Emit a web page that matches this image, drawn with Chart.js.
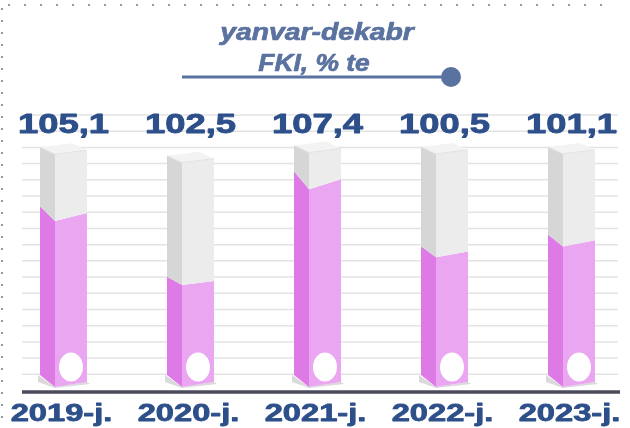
<!DOCTYPE html>
<html>
<head>
<meta charset="utf-8">
<script src="https://cdn.jsdelivr.net/npm/chart.js@4.4.0/dist/chart.umd.min.js"></script>
<style>
html, body { margin: 0; padding: 0; background: #fff; overflow: hidden; width: 630px; height: 428px; }
canvas { display: block; }
</style>
</head>
<body>
<canvas id="fki" width="640" height="428"></canvas>
<script>
var years = ['2019-j.', '2020-j.', '2021-j.', '2022-j.', '2023-j.'];
var fkiValues = [105.1, 102.5, 107.4, 100.5, 101.1];
// pink fill level and tube top, counted in grid steps above the axis
var fillLevel = [10.46, 6.51, 12.42, 8.22, 8.88];
var tubeLevel = [14.58, 14.06, 14.68, 14.6, 14.6];
var baseLevel = 0.22;
var titleLines = ['yanvar-dekabr', 'FKI, % te'];

function fmt(v) {
    return v.toFixed(1).replace('.', ',');
}

function poly(ctx, pts, color) {
    ctx.beginPath();
    ctx.moveTo(pts[0][0], pts[0][1]);
    for (var i = 1; i < pts.length; i++) ctx.lineTo(pts[i][0], pts[i][1]);
    ctx.closePath();
    ctx.fillStyle = color;
    ctx.fill();
}

// wide heavy text, the original is stretched sideways
function wideText(ctx, text, x, y, font, color, sx, weight) {
    ctx.save();
    ctx.font = font;
    ctx.fillStyle = color;
    ctx.strokeStyle = color;
    ctx.lineWidth = weight;
    ctx.lineJoin = 'round';
    ctx.textAlign = 'center';
    ctx.textBaseline = 'alphabetic';
    ctx.translate(x, y);
    ctx.scale(sx, 1);
    ctx.fillText(text, 0, 0);
    if (weight > 0) ctx.strokeText(text, 0, 0);
    ctx.restore();
}

var tubes = {
    id: 'tubes',
    beforeDatasetsDraw: function(chart) {
        var ctx = chart.ctx;
        var ys = chart.scales.y;

        ctx.save();
        // dotted frame
        ctx.strokeStyle = '#9a9a9a';
        ctx.lineWidth = 2;
        ctx.setLineDash([2, 14]);
        ctx.beginPath();
        ctx.moveTo(8, 5);
        ctx.lineTo(605, 5);
        ctx.stroke();
        ctx.setLineDash([2, 10]);
        ctx.beginPath();
        ctx.moveTo(2, 8);
        ctx.lineTo(2, 428);
        ctx.stroke();
        ctx.setLineDash([]);

        // grid
        ctx.strokeStyle = '#e3e3e3';
        ctx.lineWidth = 1.5;
        ys.ticks.forEach(function(t) {
            if (t.value <= 0) return;
            var py = ys.getPixelForValue(t.value);
            ctx.beginPath();
            ctx.moveTo(22, py);
            ctx.lineTo(618, py);
            ctx.stroke();
        });

        // axis
        var p0 = ys.getPixelForValue(0) + 1.5;
        ctx.strokeStyle = '#4b4b5b';
        ctx.lineWidth = 3.5;
        ctx.beginPath();
        ctx.moveTo(22, p0);
        ctx.lineTo(620, p0);
        ctx.stroke();

        // title
        wideText(ctx, titleLines[0], 317, 40, 'italic bold 24px "Liberation Sans", Arial', '#5a72a0', 1.18, 0.7);
        wideText(ctx, titleLines[1], 314, 71, 'italic bold 24px "Liberation Sans", Arial', '#5a72a0', 1.1, 0.7);
        ctx.strokeStyle = '#5a72a0';
        ctx.lineWidth = 3;
        ctx.beginPath();
        ctx.moveTo(182, 77);
        ctx.lineTo(445, 77);
        ctx.stroke();
        ctx.fillStyle = '#5a72a0';
        ctx.beginPath();
        ctx.arc(451, 77, 10, 0, Math.PI * 2);
        ctx.fill();
        ctx.restore();
    },
    afterDatasetsDraw: function(chart) {
        var ctx = chart.ctx;
        var ys = chart.scales.y;
        var bars = chart.getDatasetMeta(0).data;
        var yB = ys.getPixelForValue(baseLevel);

        ctx.save();
        bars.forEach(function(bar, i) {
            var c = bar.x;
            var xs = c - 23.5, xf = c - 8.5, xr = c + 23.5;
            var yP = ys.getPixelForValue(fillLevel[i]);
            var yT = ys.getPixelForValue(tubeLevel[i]);
            var h = yB - yP;
            var fs = Math.max(3, 0.0625 * h - 2.4);
            var ss = 1.6 * fs + 2;

            // shadow
            poly(ctx, [[xs - 2, yB - 12], [xs - 2, yB - 5], [xf, yB + 1], [xr + 3, yB - 3], [xr, yB - 5], [xf, yB]], '#dadada');
            // pink
            poly(ctx, [[xs, yB - 12], [xf, yB], [xf, yP], [xs, yP - ss]], '#dd7ae5');
            poly(ctx, [[xf, yB], [xr, yB - 5], [xr, yP - fs], [xf, yP]], '#eaa6f0');
            // empty part
            poly(ctx, [[xs, yP - ss], [xf, yP], [xf, yT], [xs, yT - 7]], '#d6d6d6');
            poly(ctx, [[xf, yP], [xr, yP - fs], [xr, yT - 4], [xf, yT]], '#ececec');
            // top cap
            poly(ctx, [[xs, yT - 7], [xf, yT], [xr, yT - 4], [xs + (xr - xf), yT - 11]], '#f3f3f3');
            ctx.strokeStyle = '#e2e2e2';
            ctx.lineWidth = 1;
            ctx.beginPath();
            ctx.moveTo(xs, yT - 7);
            ctx.lineTo(xf, yT);
            ctx.lineTo(xr, yT - 4);
            ctx.stroke();
            // bulb
            ctx.fillStyle = '#ffffff';
            ctx.beginPath();
            ctx.ellipse((xf + xr) / 2, yB - 20, 12, 14.5, 0, 0, Math.PI * 2);
            ctx.fill();

            wideText(ctx, fmt(fkiValues[i]), c, 133, 'bold 28px "Liberation Sans", Arial', '#2d4f8a', 1.3, 0.9);
            wideText(ctx, years[i], c - 2, 420.5, 'bold 23px "Liberation Sans", Arial', '#2d4f8a', 1.42, 0.8);
        });
        ctx.restore();
    }
};

new Chart(document.getElementById('fki'), {
    type: 'bar',
    data: {
        labels: years,
        datasets: [
            { label: 'fill', data: fillLevel, backgroundColor: 'rgba(0,0,0,0)', grouped: false },
            { label: 'tube', data: tubeLevel, backgroundColor: 'rgba(0,0,0,0)', grouped: false }
        ]
    },
    options: {
        responsive: false,
        animation: false,
        devicePixelRatio: 1,
        layout: { padding: { left: 0, right: 5, top: 115, bottom: 37.5 } },
        plugins: { legend: { display: false }, tooltip: { enabled: false } },
        scales: {
            x: { display: false },
            y: { display: false, min: 0, max: 17, ticks: { stepSize: 1, maxTicksLimit: 40, autoSkip: false } }
        }
    },
    plugins: [tubes]
});
</script>
</body>
</html>
